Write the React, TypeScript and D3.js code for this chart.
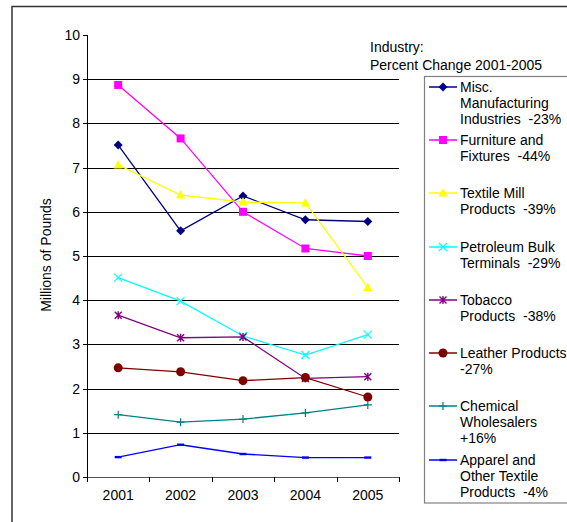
import React from "react";
import * as d3 from "d3";

const years = ["2001", "2002", "2003", "2004", "2005"];
const yTicks = [0, 1, 2, 3, 4, 5, 6, 7, 8, 9, 10];

const misc = [7.51, 5.57, 6.36, 5.82, 5.78];
const furniture = [8.87, 7.66, 6.0, 5.17, 5.0];
const textile = [7.06, 6.38, 6.22, 6.2, 4.29];
const petroleum = [4.51, 3.98, 3.19, 2.76, 3.22];
const tobacco = [3.66, 3.15, 3.17, 2.23, 2.27];
const leather = [2.47, 2.38, 2.18, 2.25, 1.81];
const chemical = [1.41, 1.24, 1.31, 1.45, 1.63];
const apparel = [0.45, 0.73, 0.52, 0.44, 0.44];

const seriesNames = [
  ["Misc.", "Manufacturing", "Industries  -23%"],
  ["Furniture and", "Fixtures  -44%"],
  ["Textile Mill", "Products  -39%"],
  ["Petroleum Bulk", "Terminals  -29%"],
  ["Tobacco", "Products  -38%"],
  ["Leather Products", "-27%"],
  ["Chemical", "Wholesalers", "+16%"],
  ["Apparel and", "Other Textile", "Products  -4%"],
];
const seriesValues = [misc, furniture, textile, petroleum, tobacco, leather, chemical, apparel];
const seriesColors = ["#000080", "#FF00FF", "#FFFF00", "#00FFFF", "#800080", "#800000", "#008080", "#0000FF"];
const seriesMarkers = ["diamond", "square", "triangle", "x", "star", "circle", "plus", "dash"];

const FONT = "Arial, 'Liberation Sans', sans-serif";
const FS = 14;

function Marker({ type, x, y, color }: { type: string; x: number; y: number; color: string }) {
  switch (type) {
    case "diamond":
      return <path d={`M${x},${y - 4.5}L${x + 4.5},${y}L${x},${y + 4.5}L${x - 4.5},${y}Z`} fill={color} />;
    case "square":
      return <rect x={x - 4} y={y - 4} width={8} height={8} fill={color} />;
    case "triangle":
      return <path d={`M${x},${y - 5}L${x + 4.5},${y + 3.5}L${x - 4.5},${y + 3.5}Z`} fill={color} />;
    case "x":
      return (
        <path d={`M${x - 4},${y - 4}L${x + 4},${y + 4}M${x + 4},${y - 4}L${x - 4},${y + 4}`} stroke={color} strokeWidth={1.2} />
      );
    case "star":
      return (
        <path
          d={`M${x - 3.5},${y - 3.5}L${x + 3.5},${y + 3.5}M${x + 3.5},${y - 3.5}L${x - 3.5},${y + 3.5}M${x},${y - 4}L${x},${y + 4}`}
          stroke={color}
          strokeWidth={1.4}
        />
      );
    case "circle":
      return <circle cx={x} cy={y} r={4.5} fill={color} />;
    case "plus":
      return <path d={`M${x - 4},${y}L${x + 4},${y}M${x},${y - 4}L${x},${y + 4}`} stroke={color} strokeWidth={1.2} />;
    case "dash":
      return <rect x={x - 3.5} y={y - 1.2} width={7} height={2.4} fill={color} />;
    default:
      return null;
  }
}

export default function App() {
  const x0 = 87;
  const x1 = 399;
  const yTop = 35;
  const yBot = 477;

  const x = d3.scaleBand<string>().domain(years).range([x0, x1]);
  const y = d3.scaleLinear().domain([0, 10]).range([yBot, yTop]);
  const line = d3
    .line<number>()
    .x((_, i) => (x(years[i]) as number) + x.bandwidth() / 2)
    .y((d) => y(d));

  const legendRows = [87, 140, 193, 247, 300, 353, 406, 460];

  return (
    <svg width={567} height={522} style={{ position: "absolute", left: 0, top: 0, background: "#fff" }} fontFamily={FONT}>
      <rect x={0} y={0} width={567} height={522} fill="#fff" />
      {/* outer border */}
      <rect x={12} y={6.5} width={600} height={600} fill="none" stroke="#333" strokeWidth={1.5} />

      {/* gridlines */}
      {yTicks.filter((t) => t > 0).slice(0, -1).map((t) => (
        <line key={t} x1={x0} x2={x1} y1={Math.round(y(t)) + 0.5} y2={Math.round(y(t)) + 0.5} stroke="#000" strokeWidth={1} />
      ))}

      {/* y axis */}
      <line x1={x0 + 0.5} x2={x0 + 0.5} y1={yTop} y2={yBot} stroke="#000" strokeWidth={1} />
      {yTicks.map((t) => (
        <g key={t}>
          <line x1={x0 - 4} x2={x0} y1={Math.round(y(t)) + 0.5} y2={Math.round(y(t)) + 0.5} stroke="#000" />
          <text x={x0 - 7} y={y(t)} dy="0.35em" textAnchor="end" fontSize={FS} fill="#000">
            {t}
          </text>
        </g>
      ))}

      {/* x axis */}
      <line x1={x0} x2={x1} y1={yBot + 0.5} y2={yBot + 0.5} stroke="#555" strokeWidth={1.2} />
      {[...years.map((yr) => x(yr) as number), x1].map((px, i) => (
        <line key={i} x1={Math.round(px) + 0.5} x2={Math.round(px) + 0.5} y1={yBot} y2={yBot + 5} stroke="#000" />
      ))}
      {years.map((yr) => (
        <text key={yr} x={(x(yr) as number) + x.bandwidth() / 2} y={yBot + 23} textAnchor="middle" fontSize={FS} fill="#000">
          {yr}
        </text>
      ))}

      {/* y title */}
      <text transform={`translate(51,255) rotate(-90)`} textAnchor="middle" fontSize={FS} fill="#000">
        Millions of Pounds
      </text>

      {/* series */}
      {seriesValues.map((vals, si) => (
        <g key={si}>
          <path d={line(vals) as string} fill="none" stroke={seriesColors[si]} strokeWidth={1.3} />
          {vals.map((v, i) => (
            <Marker
              key={i}
              type={seriesMarkers[si]}
              x={(x(years[i]) as number) + x.bandwidth() / 2}
              y={y(v)}
              color={seriesColors[si]}
            />
          ))}
        </g>
      ))}

      {/* legend title */}
      <text x={370} y={52} fontSize={FS} fill="#000">
        Industry:
      </text>
      <text x={370} y={70} fontSize={FS} fill="#000">
        Percent Change 2001-2005
      </text>

      {/* legend box */}
      <rect x={424.5} y={76.5} width={200} height={426.5} fill="#fff" stroke="#808080" strokeWidth={1.2} />
      {seriesNames.map((lines, si) => {
        const ry = legendRows[si];
        return (
          <g key={si}>
            <line x1={429} x2={457} y1={ry} y2={ry} stroke={seriesColors[si]} strokeWidth={1.5} />
            <Marker type={seriesMarkers[si]} x={443} y={ry} color={seriesColors[si]} />
            {lines.map((t, li) => (
              <text
                key={li}
                x={460}
                y={ry + li * 16}
                dy="0.35em"
                fontSize={FS}
                fill="#000"
                style={{ whiteSpace: "pre" }}
              >
                {t}
              </text>
            ))}
          </g>
        );
      })}
    </svg>
  );
}
